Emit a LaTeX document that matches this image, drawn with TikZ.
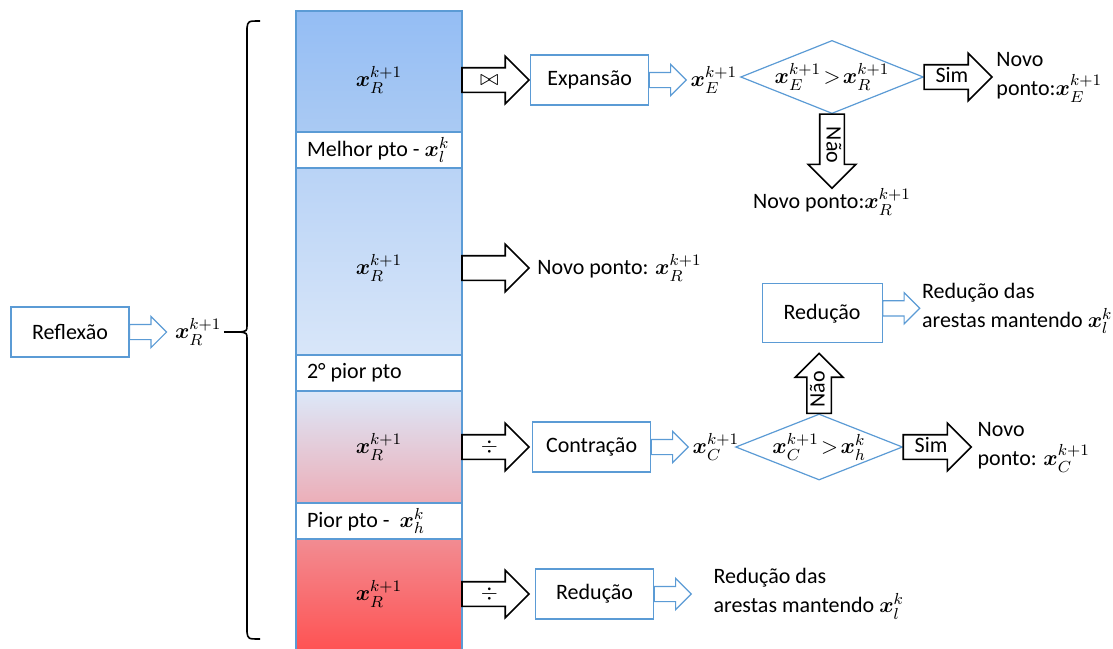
\documentclass[tikz,border=0pt]{standalone}
\usepackage{amsmath}
\usepackage{amssymb}
\usepackage{fontspec}
\setmainfont{Carlito}
\usetikzlibrary{arrows,%
                shapes.arrows,%
                shapes.geometric,%
                positioning}
\definecolor{linhaazul}{RGB}{91,155,213}
\newcommand{\vx}[2]{\ensuremath{\boldsymbol{x}_{#1}^{#2}}}

\begin{document}
\begin{tikzpicture}[x=0.5pt,y=-0.5pt,font=\fontsize{11}{14.5}\selectfont]
  \tikzset{caixa/.style = {draw=linhaazul,line width=0.6pt,fill=white,
                           minimum width=59pt,minimum height=25pt,inner sep=0pt}}
  \tikzset{setaazul/.style = {single arrow,draw=linhaazul,line width=0.6pt,fill=white,
                              inner sep=0pt,outer sep=0pt,text height=3.5pt,text depth=3.5pt,
                              minimum width=15pt,single arrow head extend=4pt,minimum height=18.5pt}}
  \tikzset{setapreta/.style = {single arrow,draw=black,line width=0.8pt,fill=white,
                               inner sep=0pt,outer sep=0pt,text height=8.5pt,text depth=3pt,
                               minimum width=23pt,single arrow head extend=5.75pt,minimum height=33.5pt}}
  \tikzset{losango/.style = {diamond,draw=linhaazul,line width=0.6pt,fill=white,inner sep=0pt,
                             aspect=2.5,minimum width=83.5pt,minimum height=33pt}}
  \tikzset{secao/.style = {draw=linhaazul,line width=0.6pt,minimum width=83pt,inner sep=0pt,outer sep=0pt}}
  \tikzset{rotulo/.style = {inner sep=1pt}}
  \useasboundingbox (0,0) rectangle (1113,648);

  % coluna de faixas
  \node[secao,anchor=north west,top color={rgb,255:red,148;green,189;blue,244},
        bottom color={rgb,255:red,170;green,202;blue,243},minimum height=60.5pt] (s1) at (296,11) {};
  \node[secao,fill=white,minimum height=18pt,below=0pt of s1] (s2) {};
  \node[secao,top color={rgb,255:red,185;green,211;blue,246},
        bottom color={rgb,255:red,216;green,230;blue,249},minimum height=93.5pt,below=0pt of s2] (s3) {};
  \node[secao,fill=white,minimum height=18pt,below=0pt of s3] (s4) {};
  \node[secao,top color={rgb,255:red,220;green,232;blue,249},
        bottom color={rgb,255:red,236;green,174;blue,184},minimum height=56pt,below=0pt of s4] (s5) {};
  \node[secao,fill=white,minimum height=18pt,below=0pt of s5] (s6) {};
  \node[secao,top color={rgb,255:red,242;green,140;blue,146},
        bottom color={rgb,255:red,255;green,80;blue,80},minimum height=58pt,below=0pt of s6] (s7) {};

  \node (r1) at (379,80) {\vx{R}{k+1}};
  \node (r2) at (379,268) {\vx{R}{k+1}};
  \node (r3) at (379,447) {\vx{R}{k+1}};
  \node (r4) at (379,594) {\vx{R}{k+1}};
  \node[anchor=west,inner ysep=0pt] (t2) at ([xshift=2pt]s2.west) {Melhor pto - \vx{l}{k}};
  \node[anchor=west,inner ysep=0pt] (t4) at ([xshift=2pt]s4.west) {2° pior pto};
  \node[anchor=west,inner ysep=0pt] (t6) at ([xshift=2pt]s6.west) {Pior pto -\ \ \vx{h}{k}};

  % reflexao e chave
  \node[caixa] (refl) at (70,332) {Reflexão};
  \node[setaazul,anchor=tail] (a0) at (refl.east) {};
  \node[rotulo,right=3pt of a0.tip] (xr0) {\vx{R}{k+1}};
  \coordinate (chave) at (240,332);
  \draw[line width=0.8pt] (xr0.east) -- (chave);
  \draw[line width=0.8pt] (260,21) .. controls (248,21) .. (247,28) -- (247,325)
        .. controls (247,331) .. (chave) .. controls (247,333) .. (247,339)
        -- (247,632) .. controls (248,639) .. (260,639);

  % expansao
  \node[setapreta,anchor=tail] (p1) at (s1.east |- r1) {$\bowtie$};
  \node[caixa,anchor=west] (expa) at ([xshift=0.5pt]p1.tip) {Expansão};
  \node[setaazul,anchor=tail] (a1) at (expa.east) {};
  \node[rotulo,right=1pt of a1.tip] (xe) {\vx{E}{k+1}};
  \node[losango,anchor=west] (d1) at (740,77) {$\vx{E}{k+1}\!>\!\vx{R}{k+1}$};
  \node[setapreta,anchor=tail,minimum height=34pt] (sim1) at (d1.east) {Sim};
  \node[rotulo,right=1pt of sim1.tip,align=left] (np1) {Novo\\ponto:\vx{E}{k+1}};
  \node[setapreta,anchor=tail,rotate=-90,minimum height=37pt] (nao1) at (d1.south) {Não};
  \node[rotulo,below=-1pt of nao1.tip] (np2) {Novo ponto:\vx{R}{k+1}};

  % faixa do meio
  \node[setapreta,anchor=tail] (p2) at (s3.east |- r2) {};
  \node[rotulo,right=3pt of p2.tip] (np3) {Novo ponto: \vx{R}{k+1}};

  % contracao
  \node[setapreta,anchor=tail] (p3) at (s5.east |- r3) {$\div$};
  \node[caixa,anchor=west] (contr) at ([xshift=1.5pt]p3.tip) {Contração};
  \node[setaazul,anchor=tail] (a3) at (contr.east) {};
  \node[rotulo,right=1pt of a3.tip] (xc) {\vx{C}{k+1}};
  \node[losango,anchor=west] (d2) at (735,447) {$\vx{C}{k+1}\!>\!\vx{h}{k}$};
  \node[setapreta,anchor=tail,minimum height=34pt] (sim2) at (d2.east) {Sim};
  \node[rotulo,right=2pt of sim2.tip,align=left] (np4) {Novo\\ponto: \vx{C}{k+1}};
  \node[setapreta,anchor=tail,rotate=90,minimum height=30pt] (nao2) at (d2.north) {Não};
  \node[caixa,anchor=south,minimum width=60pt,minimum height=29.5pt] (red1) at ([xshift=1.5pt,yshift=5pt]nao2.tip) {Redução};
  \node[setaazul,anchor=tail] (a4) at ([yshift=2.5pt]red1.east) {};
  \node[rotulo,right=0pt of a4.tip,align=left] (rd1) {Redução das\\arestas mantendo \vx{l}{k}};

  % reducao
  \node[setapreta,anchor=tail] (p4) at (s7.east |- r4) {$\div$};
  \node[caixa,anchor=west] (red2) at ([xshift=3pt]p4.tip) {Redução};
  \node[setaazul,anchor=tail] (a5) at (red2.east) {};
  \node[rotulo,anchor=west,align=left] (rd2) at ([xshift=10pt]a5.tip) {Redução das\\arestas mantendo \vx{l}{k}};

\end{tikzpicture}
\end{document}
